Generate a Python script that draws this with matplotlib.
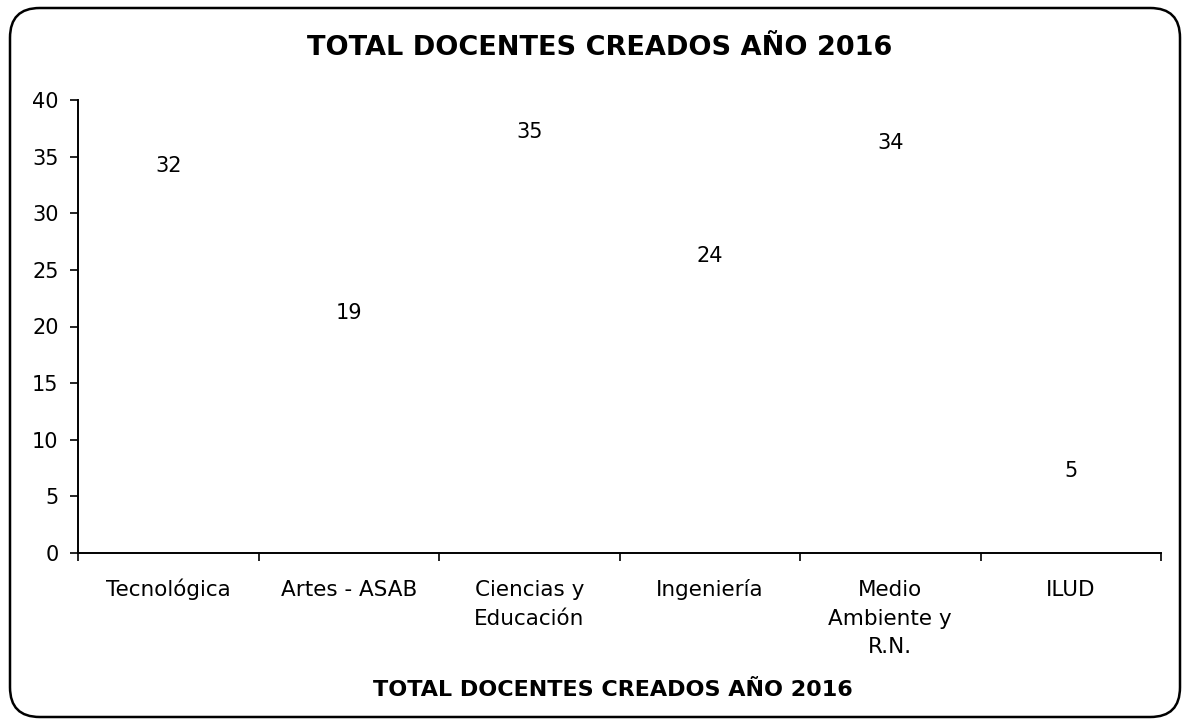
import matplotlib.pyplot as plt
from matplotlib.patches import FancyBboxPatch
from matplotlib.transforms import blended_transform_factory

categorias = ['Tecnológica', 'Artes - ASAB', 'Ciencias y\nEducación', 'Ingeniería',
              'Medio\nAmbiente y\nR.N.', 'ILUD']
docentes = [32, 19, 35, 24, 34, 5]
titulo = 'TOTAL DOCENTES CREADOS AÑO 2016'

plt.rcParams['font.family'] = ['DejaVu Sans']

fig = plt.figure(figsize=(11.88, 7.25), dpi=100)
ax = fig.add_axes([78 / 1188, 1 - 553 / 725, (1161 - 78) / 1188, (553 - 100) / 725])

x = list(range(len(categorias)))
bars = ax.bar(x, docentes, width=0.39, color='white', edgecolor='white')
for xi, v in zip(x, docentes):
    ax.text(xi, v + 2.2, str(v), ha='center', va='center', fontsize=15)

ax.set_xlim(-0.5, len(categorias) - 0.5)
ax.set_ylim(0, 40)
ax.set_yticks(range(0, 41, 5))
ax.set_xticks([i - 0.5 for i in range(len(categorias) + 1)])
ax.set_xticklabels([])
# category names below the axis, first lines on a common baseline
trans = blended_transform_factory(ax.transData, ax.transAxes)
for xi, nombre in zip(x, categorias):
    lineas = nombre.split('\n')
    for k, linea in enumerate(lineas):
        ax.text(xi, -0.095 - k * 0.063, linea, transform=trans, ha='center',
                va='baseline', fontsize=15.5)
ax.tick_params(axis='x', length=6, width=1.2, direction='out')
ax.tick_params(axis='y', length=6, width=1.2, labelsize=15, pad=8)
for s in ['top', 'right']:
    ax.spines[s].set_visible(False)
for s in ['left', 'bottom']:
    ax.spines[s].set_linewidth(1.4)

fig.text(0.505, 1 - 48 / 725, titulo, ha='center', va='center', fontsize=19.5, fontweight='bold')
fig.text(0.516, 1 - 690 / 725, titulo, ha='center', va='center', fontsize=16, fontweight='bold')

frame = FancyBboxPatch((10 / 1188, 8 / 725), 1170 / 1188, 709 / 725,
                       boxstyle='round,pad=0,rounding_size=0.025',
                       transform=fig.transFigure, fill=False, edgecolor='black',
                       linewidth=1.8, mutation_aspect=1188 / 725)
fig.patches.append(frame)

fig.savefig('out.png', dpi=100)
